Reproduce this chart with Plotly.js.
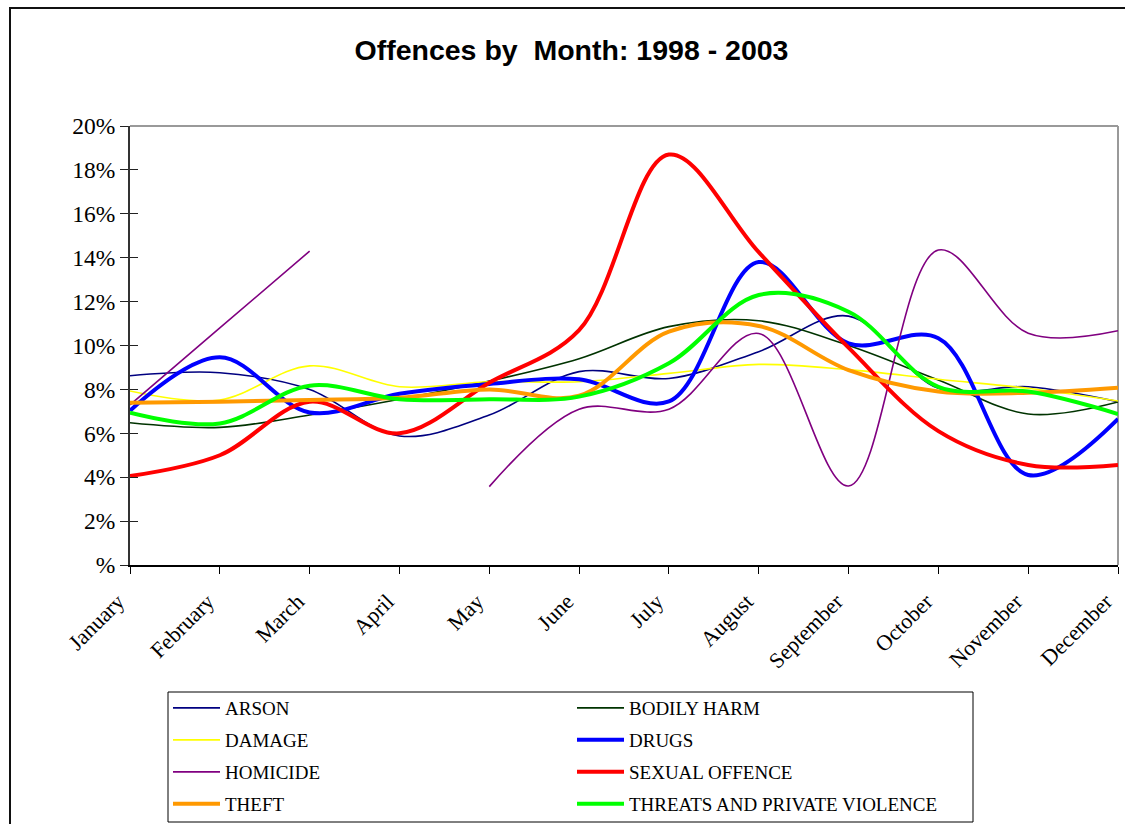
<!DOCTYPE html>
<html>
<head>
<meta charset="utf-8">
<script src="https://cdn.plot.ly/plotly-3.0.1.min.js"></script>
<style>
  html, body { margin: 0; padding: 0; background: #fff; }
  #wrap { position: relative; width: 1125px; height: 824px; overflow: hidden; }
  #chart { width: 1125px; height: 824px; }
  #frame { position: absolute; left: 9px; top: 7px; width: 1200px; height: 900px;
           border: 2px solid #111; pointer-events: none; box-sizing: border-box; }
</style>
</head>
<body>
<div id="wrap">
  <div id="chart"></div>
  <div id="frame"></div>
</div>
<script>
// ---- data (percent of yearly offences per month) ----
const months = ["January","February","March","April","May","June","July","August","September","October","November","December"];

const arson        = [8.62, 8.76, 8.00, 5.88, 6.83, 8.81, 8.50, 9.72, 11.34, 8.05, 8.12, 7.44];
const bodilyHarm   = [6.48, 6.27, 6.83, 7.55, 8.38, 9.40, 10.86, 11.13, 10.00, 8.43, 6.88, 7.43];
const damage       = [7.93, 7.52, 9.07, 8.12, 8.35, 8.35, 8.73, 9.14, 8.90, 8.46, 8.05, 7.47];
const drugs        = [7.03, 9.46, 6.95, 7.80, 8.25, 8.46, 7.45, 13.80, 10.10, 10.33, 4.10, 6.65];
const homicide     = [7.30, 10.80, 14.30, null, 3.57, 7.10, 7.10, 10.55, 3.60, 14.35, 10.56, 10.67];
const sexualOffence= [4.05, 5.00, 7.44, 6.00, 8.30, 10.70, 18.70, 14.25, 9.90, 6.10, 4.56, 4.56];
const theft        = [7.39, 7.44, 7.52, 7.62, 8.00, 7.71, 10.63, 10.89, 8.88, 7.90, 7.85, 8.08];
const threats      = [6.94, 6.45, 8.17, 7.55, 7.55, 7.67, 9.19, 12.30, 11.54, 8.12, 7.90, 6.88];

const seriesNames = ["ARSON","BODILY HARM","DAMAGE","DRUGS","HOMICIDE","SEXUAL OFFENCE","THEFT","THREATS AND PRIVATE VIOLENCE"];
const seriesData  = [arson, bodilyHarm, damage, drugs, homicide, sexualOffence, theft, threats];

const yTickVals = [0,2,4,6,8,10,12,14,16,18,20];
const yTickText = ["%","2%","4%","6%","8%","10%","12%","14%","16%","18%","20%"];

// ---- styles ----
const colors = ["#000080","#003300","#FFFF00","#0000FF","#800080","#FF0000","#FF9900","#00FF00"];
const widths = [1.6, 1.6, 1.6, 4, 1.6, 4, 4, 4];
const legendIds = ["legend","legend","legend2","legend2","legend3","legend3","legend4","legend4"];

const traces = seriesData.map((vals, i) => ({
  type: "scatter",
  mode: "lines",
  name: seriesNames[i],
  x: months,
  y: vals,
  connectgaps: false,
  legend: legendIds[i],
  line: { color: colors[i], width: widths[i], shape: "spline", smoothing: 1 },
  hoverinfo: "skip"
}));
// invisible helper trace to carry the inner half of the y tick marks
traces.push({ type: "scatter", x: [], y: [], yaxis: "y2", showlegend: false, hoverinfo: "skip" });

const serif = "Liberation Serif, Times New Roman, serif";

// plot area in pixels: x 130..1118, y 126..565
const px2x = p => (p - 130) / 988;
const px2y = p => (565 - p) / 439;

function legendRow(yCenter) {
  return {
    orientation: "h",
    x: px2x(168), xanchor: "left",
    y: px2y(yCenter), yanchor: "middle",
    bgcolor: "rgba(0,0,0,0)",
    borderwidth: 0,
    entrywidth: 342,
    entrywidthmode: "pixels",
    itemwidth: 47,
    font: { family: serif, size: 19, color: "#000" },
    traceorder: "normal"
  };
}

const layout = {
  width: 1125,
  height: 824,
  paper_bgcolor: "#ffffff",
  plot_bgcolor: "#ffffff",
  margin: { l: 130, r: 7, t: 126, b: 259, autoexpand: false },
  title: {
    text: "Offences by \u00A0Month: 1998 - 2003",
    font: { family: "Liberation Sans, Arial, sans-serif", size: 28.5, color: "#000", weight: "bold" },
    xref: "container", x: 0.508, xanchor: "center",
    yref: "container", y: 0.939, yanchor: "middle"
  },
  showlegend: true,
  legend: legendRow(708),
  legend2: legendRow(740),
  legend3: legendRow(772),
  legend4: legendRow(804),
  xaxis: {
    type: "category",
    range: [0, 11],
    automargin: false,
    showline: true, linecolor: "#000", linewidth: 2,
    ticks: "outside", ticklen: 7, tickcolor: "#000", tickwidth: 1,
    tickangle: -45,
    ticklabelshift: -12,
    ticklabelstandoff: 6,
    tickfont: { family: serif, size: 22, color: "#000" },
    showgrid: false, zeroline: false, fixedrange: true
  },
  yaxis: {
    range: [0, 20],
    automargin: false,
    tickvals: yTickVals, ticktext: yTickText,
    showline: true, linecolor: "#333", linewidth: 2,
    ticks: "outside", ticklen: 8, tickcolor: "#222", tickwidth: 1,
    tickfont: { family: serif, size: 23.5, color: "#000" },
    showgrid: false, zeroline: false, fixedrange: true
  },
  yaxis2: {
    overlaying: "y", side: "left",
    range: [0, 20],
    automargin: false,
    tickvals: yTickVals,
    showticklabels: false,
    ticks: "inside", ticklen: 8, tickcolor: "#222", tickwidth: 1,
    showline: false, showgrid: false, zeroline: false, fixedrange: true
  },
  shapes: [
    { type: "line", xref: "paper", yref: "paper", x0: 0, x1: 1, y0: 1, y1: 1,
      line: { color: "#999999", width: 2 }, layer: "below" },
    { type: "line", xref: "paper", yref: "paper", x0: 1, x1: 1, y0: 0, y1: 1,
      line: { color: "#999999", width: 2 }, layer: "below" },
    // legend frame
    { type: "rect", xref: "paper", yref: "paper",
      x0: px2x(168), x1: px2x(973), y0: px2y(692), y1: px2y(822),
      line: { color: "#000", width: 1 }, fillcolor: "rgba(0,0,0,0)", layer: "below" }
  ]
};

Plotly.newPlot("chart", traces, layout, { displayModeBar: false, staticPlot: true });
</script>
</body>
</html>
